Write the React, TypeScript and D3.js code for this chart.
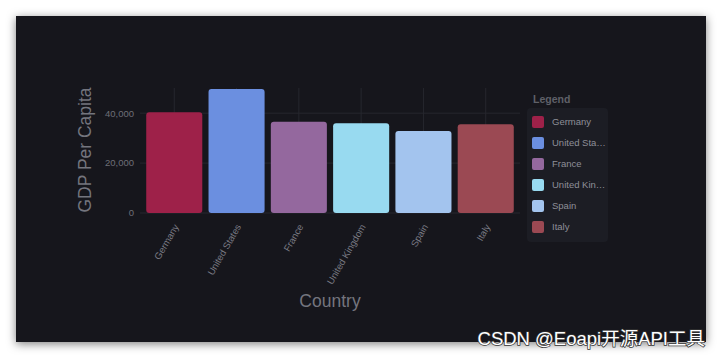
import { useEffect, useRef } from 'react';
import * as d3 from 'd3';

const countries = ['Germany', 'United States', 'France', 'United Kingdom', 'Spain', 'Italy'];
const gdpPerCapita = [40400, 49700, 36600, 36000, 32900, 35600];
const barColors = ['#9e2149', '#6b8fe0', '#94689e', '#98daf0', '#a3c4ee', '#9b4953'];
const yTicks = [0, 20000, 40000];

const truncate = (s: string) => (s.length > 11 ? s.slice(0, 10) + '…' : s);

export default function App() {
  const svgRef = useRef<SVGSVGElement>(null);

  useEffect(() => {
    if (!svgRef.current) {
      return;
    }
    const width = 720;
    const height = 358;
    const font = '"Liberation Sans", Arial, sans-serif';

    const svg = d3.select(svgRef.current);
    svg.selectAll('*').remove();
    svg.attr('width', width).attr('height', height);

    const defs = svg.append('defs');
    const filter = defs
      .append('filter')
      .attr('id', 'shadow')
      .attr('x', '-10%')
      .attr('y', '-10%')
      .attr('width', '120%')
      .attr('height', '120%');
    filter
      .append('feDropShadow')
      .attr('dx', 0)
      .attr('dy', 2)
      .attr('stdDeviation', 5)
      .attr('flood-color', '#000')
      .attr('flood-opacity', 0.5);

    svg.append('rect').attr('width', width).attr('height', height).attr('fill', '#ffffff');
    svg
      .append('rect')
      .attr('x', 16)
      .attr('y', 16)
      .attr('width', 690)
      .attr('height', 326)
      .attr('fill', '#16171c')
      .attr('filter', 'url(#shadow)');

    const x = d3.scaleBand<string>().domain(countries).range([140, 520]).padding(0.1);
    const y = d3
      .scaleLinear()
      .domain([0, d3.max(gdpPerCapita) ?? 0])
      .range([213, 89]);

    const g = svg.append('g');

    // grid
    g.selectAll('.hgrid')
      .data(yTicks)
      .enter()
      .append('line')
      .attr('x1', 140)
      .attr('x2', 520)
      .attr('y1', (d) => y(d))
      .attr('y2', (d) => y(d))
      .attr('stroke', '#26272e')
      .attr('stroke-width', 1);
    g.selectAll('.vgrid')
      .data(countries)
      .enter()
      .append('line')
      .attr('x1', (d) => (x(d) ?? 0) + x.bandwidth() / 2)
      .attr('x2', (d) => (x(d) ?? 0) + x.bandwidth() / 2)
      .attr('y1', 88)
      .attr('y2', 213)
      .attr('stroke', '#26272e')
      .attr('stroke-width', 1);

    // y tick labels
    g.selectAll('.ytick')
      .data(yTicks)
      .enter()
      .append('text')
      .attr('x', 134)
      .attr('y', (d) => y(d))
      .attr('dy', '0.35em')
      .attr('text-anchor', 'end')
      .attr('font-family', font)
      .attr('font-size', 9.5)
      .attr('fill', '#6e6f78')
      .text((d) => d3.format(',')(d));

    // bars
    g.selectAll('.bar')
      .data(countries)
      .enter()
      .append('rect')
      .attr('x', (d) => x(d) ?? 0)
      .attr('y', (_d, i) => y(gdpPerCapita[i]))
      .attr('width', x.bandwidth())
      .attr('height', (_d, i) => y(0) - y(gdpPerCapita[i]))
      .attr('rx', 3)
      .attr('fill', (_d, i) => barColors[i]);

    // x labels
    g.selectAll('.xlabel')
      .data(countries)
      .enter()
      .append('text')
      .attr('transform', (d) => `translate(${(x(d) ?? 0) + x.bandwidth() / 2 + 2},${225})rotate(-60)`)
      .attr('dy', '0.35em')
      .attr('text-anchor', 'end')
      .attr('font-family', font)
      .attr('font-size', 9.5)
      .attr('fill', '#7a7b84')
      .text((d) => d);

    // axis titles
    svg
      .append('text')
      .attr('transform', `translate(91,150)rotate(-90)`)
      .attr('text-anchor', 'middle')
      .attr('font-family', font)
      .attr('font-size', 17.5)
      .attr('fill', '#74757e')
      .text('GDP Per Capita');
    svg
      .append('text')
      .attr('x', 330)
      .attr('y', 307)
      .attr('text-anchor', 'middle')
      .attr('font-family', font)
      .attr('font-size', 17.5)
      .attr('fill', '#74757e')
      .text('Country');

    // legend
    const legend = svg.append('g');
    legend
      .append('text')
      .attr('x', 533)
      .attr('y', 103)
      .attr('font-family', font)
      .attr('font-size', 10.5)
      .attr('font-weight', 'bold')
      .attr('fill', '#5f6068')
      .text('Legend');
    legend
      .append('rect')
      .attr('x', 527)
      .attr('y', 108)
      .attr('width', 81)
      .attr('height', 134)
      .attr('rx', 4)
      .attr('fill', '#1c1d24');
    const rows = legend
      .selectAll('.row')
      .data(countries)
      .enter()
      .append('g')
      .attr('transform', (_d, i) => `translate(0,${122 + i * 21})`);
    rows
      .append('rect')
      .attr('x', 532)
      .attr('y', -6)
      .attr('width', 12)
      .attr('height', 12)
      .attr('rx', 2)
      .attr('fill', (_d, i) => barColors[i]);
    rows
      .append('text')
      .attr('x', 552)
      .attr('dy', '0.35em')
      .attr('font-family', font)
      .attr('font-size', 9.5)
      .attr('fill', '#8e8f98')
      .text((d) => truncate(d));

    // watermark
    svg
      .append('text')
      .attr('x', 705)
      .attr('y', 345)
      .attr('text-anchor', 'end')
      .attr('font-family', '"Liberation Sans", "Noto Sans CJK SC", sans-serif')
      .attr('font-size', 18.5)
      .attr('fill', '#ffffff')
      .attr('stroke', '#333333')
      .attr('stroke-width', 1.5)
      .attr('paint-order', 'stroke')
      .text('CSDN @Eoapi开源API工具');
  }, []);

  return (
    <div style={{ position: 'absolute', left: 0, top: 0 }}>
      <svg ref={svgRef} style={{ display: 'block' }} />
    </div>
  );
}
